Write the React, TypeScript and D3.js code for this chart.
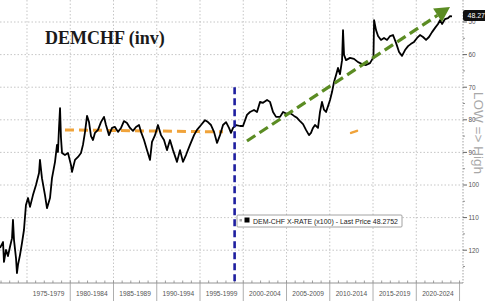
import React from 'react';
import * as d3 from 'd3';

const W = 485;
const H = 301;

const years = [
  1971.88, 1972.23, 1972.34, 1972.57, 1972.8, 1973.03, 1973.27, 1973.38, 1973.5, 1973.73, 1973.84, 1973.96,
  1974.19, 1974.42, 1974.65, 1974.88, 1975.12, 1975.35, 1975.69, 1976.04, 1976.39, 1976.5, 1976.73, 1977.08,
  1977.31, 1977.66, 1977.89, 1978.24, 1978.47, 1978.58, 1978.7, 1978.82, 1978.93, 1979.05, 1979.39, 1979.74,
  1980.09, 1980.2, 1980.55, 1980.9, 1981.24, 1981.47, 1981.71, 1981.94, 1982.17, 1982.4, 1982.63, 1982.86,
  1983.21, 1983.55, 1983.9, 1984.13, 1984.48, 1984.83, 1985.17, 1985.52, 1985.87, 1986.21, 1986.56, 1986.91,
  1987.25, 1987.6, 1987.95, 1988.18, 1988.53, 1988.87, 1989.22, 1989.45, 1989.8, 1990.14, 1990.49, 1990.84,
  1991.18, 1991.53, 1991.88, 1992.34, 1992.69, 1993.03, 1993.38, 1993.84, 1994.31, 1994.65, 1995.12, 1995.58,
  1995.92, 1996.27, 1996.62, 1996.97, 1997.31, 1997.66, 1998.01, 1998.35, 1998.58, 1998.82, 1999.16, 1999.62,
  1999.97, 2000.43, 2000.78, 2001.24, 2001.59, 2001.94, 2002.28, 2002.75, 2003.09, 2003.44, 2003.79, 2004.25,
  2004.6, 2005.06, 2005.4, 2005.87, 2006.21, 2006.56, 2006.91, 2007.25, 2007.6, 2007.83, 2008.06, 2008.29,
  2008.64, 2008.87, 2009.1, 2009.33, 2009.57, 2009.8, 2010.03, 2010.26, 2010.49, 2010.72, 2010.95, 2011.18,
  2011.42, 2011.53, 2011.65, 2011.88, 2012.34, 2012.8, 2013.27, 2013.73, 2014.19, 2014.65, 2015.0, 2015.05,
  2015.12, 2015.35, 2015.58, 2015.92, 2016.27, 2016.62, 2016.97, 2017.31, 2017.66, 2018.01, 2018.35, 2018.7,
  2019.05, 2019.39, 2019.74, 2020.09, 2020.43, 2020.78, 2021.13, 2021.47, 2021.82, 2022.17, 2022.51, 2022.75,
  2022.98, 2023.32, 2023.67, 2023.9, 2024.13,
];

const rates = [
  119.3, 117.5, 123.6, 119.9, 121.8, 119.0, 116.3, 110.7, 116.9, 122.4, 127.0, 124.5,
  121.5, 117.8, 113.8, 106.1, 104.0, 106.7, 103.1, 100.0, 96.3, 92.3, 97.9, 103.1,
  107.1, 104.0, 97.9, 92.9, 87.7, 89.9, 82.5, 76.4, 85.6, 90.2, 90.8, 90.2,
  93.9, 96.0, 92.3, 91.4, 90.2, 87.7, 83.7, 78.8, 80.7, 85.0, 86.2, 84.0,
  83.1, 80.7, 79.1, 81.6, 84.7, 82.5, 82.2, 83.7, 82.5, 80.4, 81.0, 82.5,
  83.4, 82.2, 81.6, 83.7, 86.2, 89.3, 92.3, 86.8, 84.7, 81.6, 84.7, 86.2,
  89.3, 86.2, 89.3, 92.9, 89.3, 92.9, 90.8, 87.7, 84.7, 83.1, 81.6, 80.1,
  80.7, 81.6, 83.7, 87.1, 84.7, 81.6, 80.7, 82.5, 84.0, 82.5, 81.6, 81.9,
  81.9, 78.5, 77.6, 77.0, 77.6, 74.5, 74.8, 73.9, 74.5, 77.6, 79.1, 79.1,
  77.6, 78.2, 77.9, 78.8, 79.4, 80.4, 81.3, 83.1, 84.7, 84.0, 82.5, 81.6,
  82.5, 77.6, 74.5, 76.9, 77.6, 75.8, 73.9, 71.5, 68.4, 66.3, 64.1, 66.0,
  61.7, 52.5, 60.1, 61.7, 61.0, 61.3, 62.3, 62.9, 63.2, 62.6, 61.0, 61.0,
  49.4, 52.5, 54.3, 55.5, 54.9, 55.5, 54.3, 54.0, 56.4, 59.2, 60.4, 58.6,
  57.4, 56.7, 56.1, 54.9, 54.0, 54.6, 55.5, 54.6, 53.1, 51.8, 50.6, 49.4,
  50.6, 49.1, 48.8, 48.2, 48.27,
];

const periodStarts = [1975, 1980, 1985, 1990, 1995, 2000, 2005, 2010, 2015, 2020];
const periodLabels = ['1975-1979', '1980-1984', '1985-1989', '1990-1994', '1995-1999', '2000-2004', '2005-2009', '2010-2014', '2015-2019', '2020-2024'];
const yTicks = [50, 60, 70, 80, 90, 100, 110, 120];
const yMinorTicks = [55, 65, 75, 85, 95, 105, 115, 125];
const lastPriceLabel = '48.27';
const legendText = 'DEM-CHF X-RATE (x100) - Last Price 48.2752';
const euroYear = 1999.0;
const euroLineTop = 70;
const orangeTrend = [[1979.39, 83.1], [1997.66, 83.7]];
const orangeStray = [[2012.46, 84.0], [2013.15, 83.4]];
const greenTrend = [[2000.43, 86.5], [2023.9, 45.4]];

export default function App() {
  const plotR = 463;
  const plotB = 283;
  const x = d3.scaleLinear().domain([1971.88, 2025.4]).range([0, plotR]);
  const y = d3.scaleLinear().domain([43.25, 130.06]).range([0, plotB]);
  const line = d3.line<number>().x((_, i) => x(years[i])).y((d) => y(d));
  const seg = d3.line<number[]>().x((d) => x(d[0])).y((d) => y(d[1]));

  const allYears = d3.range(1972, 2026);

  const gx0 = x(greenTrend[0][0]);
  const gy0 = y(greenTrend[0][1]);
  const gx1 = x(greenTrend[1][0]);
  const gy1 = y(greenTrend[1][1]);
  const ang = Math.atan2(gy1 - gy0, gx1 - gx0);
  const ah = 15;
  const aw = 8;
  const bx = gx1 - ah * Math.cos(ang);
  const by = gy1 - ah * Math.sin(ang);
  const px = -Math.sin(ang);
  const py = Math.cos(ang);
  const arrowPts = `${gx1},${gy1} ${bx + aw * px},${by + aw * py} ${bx - aw * px},${by - aw * py}`;

  const gridColor = '#b8b8b8';
  const axisColor = '#888';

  return (
    <svg width={W} height={H} style={{ position: 'absolute', left: 0, top: 0, background: '#fff' }}>
      <rect x={0} y={0} width={W} height={H} fill="#fff" />
      {yTicks.map((t) => (
        <line key={'h' + t} x1={0} x2={plotR} y1={y(t)} y2={y(t)} stroke={gridColor} strokeWidth={0.8} strokeDasharray="1.5,2" />
      ))}
      {periodStarts.map((t) => (
        <line key={'v' + t} x1={x(t)} x2={x(t)} y1={0} y2={plotB} stroke={gridColor} strokeWidth={0.8} strokeDasharray="1.5,2" />
      ))}
      <line x1={plotR} x2={plotR} y1={0} y2={plotB} stroke={axisColor} strokeWidth={0.8} strokeDasharray="1.5,1.5" />
      <line x1={0} x2={plotR} y1={plotB} y2={plotB} stroke={axisColor} strokeWidth={0.9} />
      {allYears.map((t) => (
        <line key={'yt' + t} x1={x(t)} x2={x(t)} y1={plotB} y2={plotB - 2.5} stroke={axisColor} strokeWidth={0.8} />
      ))}
      {[...periodStarts.slice(1), 2025].map((t) => (
        <line key={'sep' + t} x1={x(t)} x2={x(t)} y1={plotB} y2={H} stroke="#999" strokeWidth={0.8} />
      ))}
      {periodLabels.map((l, i) => (
        <text key={l} x={x(periodStarts[i] + 2.5)} y={296} textAnchor="middle" fontFamily="Liberation Sans, Arial, sans-serif" fontSize={6.6} fill="#555">
          {l}
        </text>
      ))}
      {yTicks.map((t) => (
        <g key={'rt' + t}>
          <line x1={plotR} x2={plotR + 4} y1={y(t)} y2={y(t)} stroke="#555" strokeWidth={0.9} />
          <text x={plotR + 5.5} y={y(t) + 2.3} fontFamily="Liberation Sans, Arial, sans-serif" fontSize={6.4} fill="#555">
            {t}
          </text>
        </g>
      ))}
      {yMinorTicks.map((t) => (
        <line key={'rm' + t} x1={plotR} x2={plotR + 2} y1={y(t)} y2={y(t)} stroke="#777" strokeWidth={0.8} />
      ))}
      <text transform={`translate(474, 133) rotate(90)`} textAnchor="middle" fontFamily="Liberation Sans, Arial, sans-serif" fontSize={13.5} fill="#a8a8a8">
        LOW =&gt; High
      </text>
      <text x={45} y={44} fontFamily="Liberation Serif, Times New Roman, serif" fontWeight="bold" fontSize={18} fill="#1a1a1a">
        DEMCHF (inv)
      </text>
      <path d={seg(orangeTrend as number[][]) || ''} stroke="#f0a33a" strokeWidth={3} strokeDasharray="9,5" fill="none" />
      <path d={seg(orangeStray as number[][]) || ''} stroke="#f0a33a" strokeWidth={2.5} fill="none" strokeLinecap="round" />
      <path d={line(rates) || ''} stroke="#000" strokeWidth={1.8} fill="none" strokeLinejoin="round" />
      <line x1={gx0} y1={gy0} x2={bx} y2={by} stroke="#5b8c23" strokeWidth={3.2} strokeDasharray="10,5" />
      <polygon points={arrowPts} fill="#5b8c23" />
      <line x1={x(euroYear)} x2={x(euroYear)} y1={y(euroLineTop)} y2={plotB} stroke="#1f1fa0" strokeWidth={2.6} strokeDasharray="7,4" />
      <rect x={237} y={215} width={165} height={12} fill="#fff" stroke="#8a8a8a" strokeWidth={0.8} rx={1} />
      <rect x={239.5} y={219} width={2.5} height={2.5} fill="#aaa" />
      <rect x={244.5} y={217.5} width={5} height={5} fill="#000" />
      <text x={253} y={223.5} fontFamily="Liberation Sans, Arial, sans-serif" fontSize={6.8} fill="#222" textLength={145} lengthAdjust="spacingAndGlyphs">
        {legendText}
      </text>
      <rect x={plotR} y={10} width={30} height={11} rx={2} fill="#111" />
      <text x={plotR + 4.5} y={18} fontFamily="Liberation Sans, Arial, sans-serif" fontSize={7} fill="#fff">
        {lastPriceLabel}
      </text>
    </svg>
  );
}
